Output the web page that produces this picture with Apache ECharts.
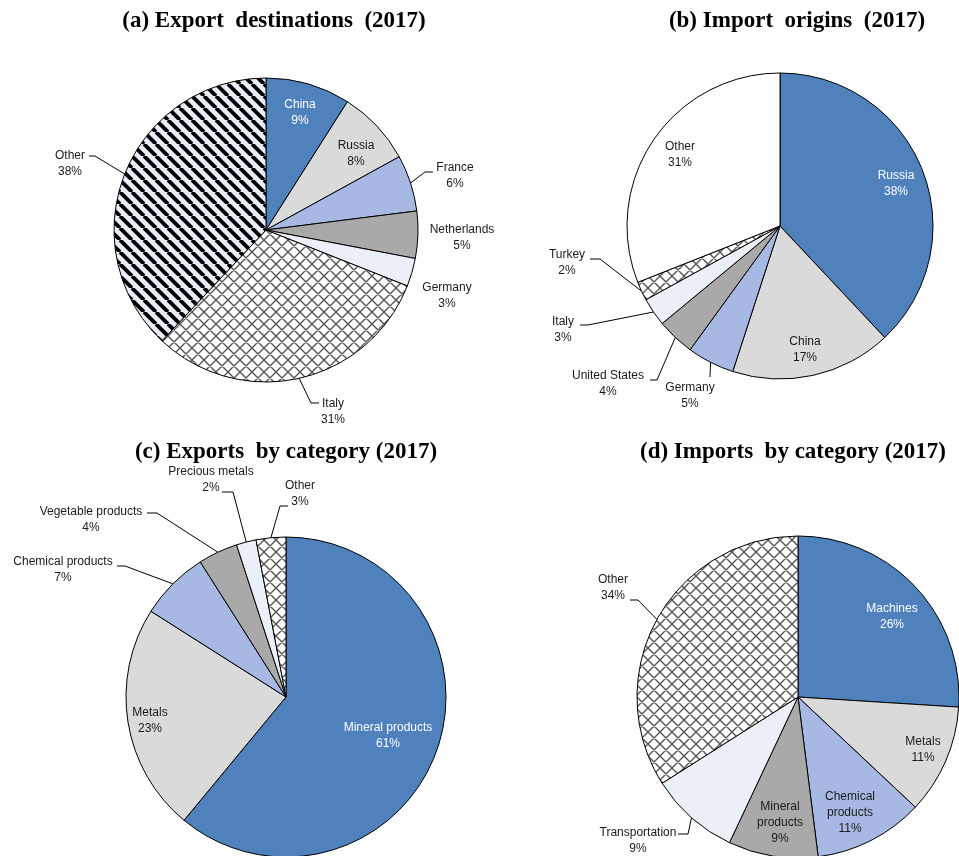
<!DOCTYPE html>
<html><head><meta charset="utf-8">
<script src="https://cdn.jsdelivr.net/npm/echarts@6/dist/echarts.min.js"></script>
<style>html,body{margin:0;padding:0;background:#fff}#c{width:959px;height:856px}</style>
</head><body><div id="c"></div>
<script>
// ---- data ----
const titles = ['(a) Export  destinations  (2017)', '(b) Import  origins  (2017)', '(c) Exports  by category (2017)', '(d) Imports  by category (2017)'];
const exportDestNames = ['China', 'Russia', 'France', 'Netherlands', 'Germany', 'Italy', 'Other'];
const exportDestValues = [9, 8, 6, 5, 3, 31, 38];
const importOrigNames = ['Russia', 'China', 'Germany', 'United States', 'Italy', 'Turkey', 'Other'];
const importOrigValues = [38, 17, 5, 4, 3, 2, 31];
const exportCatNames = ['Mineral products', 'Metals', 'Chemical products', 'Vegetable products', 'Precious metals', 'Other'];
const exportCatValues = [61, 23, 7, 4, 2, 3];
const importCatNames = ['Machines', 'Metals', 'Chemical\nproducts', 'Mineral\nproducts', 'Transportation', 'Other'];
const importCatValues = [26, 11, 11, 9, 9, 34];

// ---- styles ----
function makeStripes() {
  const s = 12, c = document.createElement('canvas'); c.width = c.height = s;
  const g = c.getContext('2d');
  g.fillStyle = '#E8ECF6'; g.fillRect(0, 0, s, s);
  g.strokeStyle = '#000'; g.lineWidth = 3.8; g.beginPath();
  for (let k = -1; k <= 1; k++) { g.moveTo(k * s, 0); g.lineTo(k * s + s, s); }
  g.stroke(); return c;
}
function makeCross() {
  const s = 12, c = document.createElement('canvas'); c.width = c.height = s;
  const g = c.getContext('2d');
  g.fillStyle = '#fff'; g.fillRect(0, 0, s, s);
  g.strokeStyle = '#555'; g.lineWidth = 1.4; g.beginPath();
  for (let k = -1; k <= 1; k++) {
    g.moveTo(k * s, 0); g.lineTo(k * s + s, s);
    g.moveTo(k * s, s); g.lineTo(k * s + s, 0);
  }
  g.stroke(); return c;
}
const STRIPES = { image: makeStripes(), repeat: 'repeat' };
const CROSS = { image: makeCross(), repeat: 'repeat' };
const BLUE = '#4F81BD', LGRAY = '#DADADA', PERI = '#A7B9E3', DGRAY = '#A9A9A9', VLIGHT = '#EAEFF8', WHITE = '#FFFFFF';

const fills = [
  [BLUE, LGRAY, PERI, DGRAY, VLIGHT, CROSS, STRIPES],
  [BLUE, LGRAY, PERI, DGRAY, VLIGHT, CROSS, WHITE],
  [BLUE, LGRAY, PERI, DGRAY, VLIGHT, CROSS],
  [BLUE, LGRAY, PERI, DGRAY, VLIGHT, CROSS]
];
const whiteLabel = [[0], [0], [0], [0]];

// label layout: [x, y, bendX, bendY, endX, endY] (line optional)
const labelPos = [
  [[300, 113], [356, 154], [455, 176, 425, 172, 433, 172], [462, 238], [447, 296], [333, 412, 311, 403, 319, 403], [70, 164, 95, 156, 89, 156]],
  [[896, 184], [805, 350], [690, 396, 710, 377, 710, 377], [608, 384, 657, 380, 650, 380], [563, 330, 588, 325, 580, 325], [567, 263, 600, 259, 590, 259], [680, 155]],
  [[388, 736], [150, 721], [63, 570, 125, 566, 117, 566], [91, 520, 157, 513, 147, 513], [211, 480, 233, 492, 222, 492], [300, 494, 280, 506, 288, 506]],
  [[892, 617], [923, 750], [850, 813], [780, 823], [638, 841, 688, 834, 678, 834], [613, 588, 638, 600, 630, 600]]
];
const centers = [[266, 230], [780, 226], [286, 697], [798, 697]];
const radii = [152, 153, 160, 161];
const titlePos = [[269, 5], [792, 5], [281, 436], [788, 436]];

const sets = [
  [exportDestNames, exportDestValues],
  [importOrigNames, importOrigValues],
  [exportCatNames, exportCatValues],
  [importCatNames, importCatValues]
];

const series = sets.map(([names, vals], si) => ({
  type: 'pie',
  center: centers[si],
  radius: radii[si],
  startAngle: 90,
  clockwise: true,
  avoidLabelOverlap: false,
  animation: false,
  silent: true,
  itemStyle: { borderColor: '#000', borderWidth: 1 },
  data: names.map((n, i) => {
    const p = labelPos[si][i];
    const hasLine = p.length > 2;
    return {
      name: n, value: vals[i],
      itemStyle: { color: fills[si][i] },
      label: {
        position: hasLine ? 'outside' : 'inside',
        color: whiteLabel[si].includes(i) ? '#fff' : '#1a1a1a'
      },
      labelLine: { show: hasLine, lineStyle: { color: '#000', width: 1 } }
    };
  }),
  label: {
    formatter: '{b}\n{c}%',
    fontFamily: '"Liberation Sans", Arial, sans-serif',
    fontSize: 12,
    lineHeight: 16,
    align: 'center'
  },
  labelLine: { smooth: false },
  labelLayout: function (params) {
    const p = labelPos[si][params.dataIndex];
    const out = { x: p[0], y: p[1], align: 'center', verticalAlign: 'middle' };
    if (p.length > 2 && params.labelLinePoints) {
      const p0 = params.labelLinePoints[0];
      out.labelLinePoints = [p0, [p[2], p[3]], [p[4], p[5]]];
    }
    return out;
  }
}));

const chart = echarts.init(document.getElementById('c'), null, { renderer: 'canvas' });
chart.setOption({
  backgroundColor: '#fff',
  animation: false,
  title: titles.map((t, i) => ({
    text: t, left: titlePos[i][0], top: titlePos[i][1], textAlign: 'center',
    textStyle: { fontFamily: '"Liberation Serif", "Times New Roman", serif', fontWeight: 'bold', fontSize: 23, color: '#000' }
  })),
  series: series
});
</script></body></html>
